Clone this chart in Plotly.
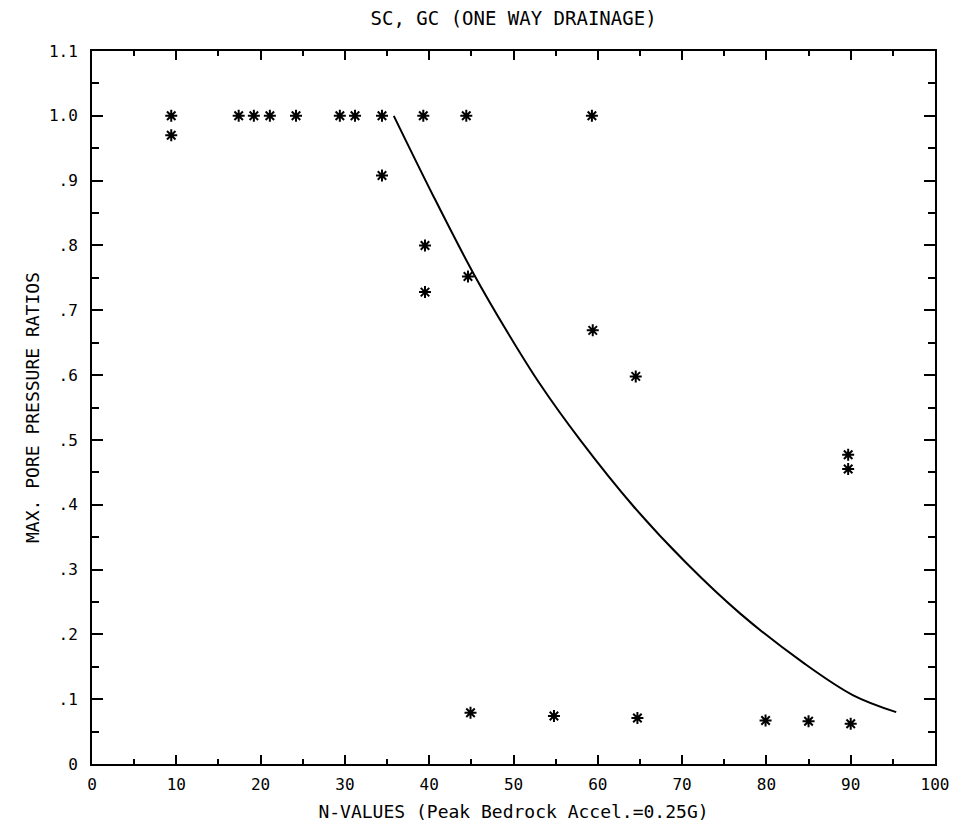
import plotly.graph_objects as go

# Measured points: N-value vs. maximum pore pressure ratio
n_values = [9.4, 9.4, 17.4, 19.2, 21.1, 24.2, 29.4, 31.2, 34.4, 34.4,
            39.3, 39.5, 39.5, 44.4, 44.6, 44.9, 54.8, 59.3, 59.4, 64.5,
            64.7, 79.9, 85.0, 89.7, 89.7, 90.0]
ratios = [1.0, 0.97, 1.0, 1.0, 1.0, 1.0, 1.0, 1.0, 1.0, 0.908,
          1.0, 0.80, 0.728, 1.0, 0.752, 0.079, 0.074, 1.0, 0.669, 0.598,
          0.071, 0.067, 0.066, 0.477, 0.455, 0.062]

# Fitted curve
curve_n = [35.8, 40.5, 45.2, 49.2, 53.2, 57.9, 64.2, 70.5, 76.9, 84.4, 90.3, 95.4]
curve_r = [1.0, 0.876, 0.758, 0.668, 0.585, 0.500, 0.398, 0.310, 0.232, 0.156, 0.106, 0.080]

x_ticks = [0, 10, 20, 30, 40, 50, 60, 70, 80, 90, 100]
x_tick_text = ["0", "10", "20", "30", "40", "50", "60", "70", "80", "90", "100"]
y_ticks = [0, 0.1, 0.2, 0.3, 0.4, 0.5, 0.6, 0.7, 0.8, 0.9, 1.0, 1.1]
y_tick_text = ["0", ".1", ".2", ".3", ".4", ".5", ".6", ".7", ".8", ".9", "1.0", "1.1"]

FONT = "DejaVu Sans Mono"

fig = go.Figure()
fig.add_trace(go.Scatter(
    x=curve_n, y=curve_r, mode="lines",
    line=dict(color="black", width=2, shape="spline", smoothing=1.0),
    hoverinfo="skip", showlegend=False,
))
fig.add_trace(go.Scatter(
    x=n_values, y=ratios, mode="markers",
    marker=dict(symbol="asterisk-open", size=10, color="black",
                line=dict(color="black", width=2)),
    showlegend=False,
))

axis_common = dict(
    showgrid=False, zeroline=False,
    showline=True, linecolor="black", linewidth=2,
    mirror="allticks", ticks="inside", tickcolor="black", tickwidth=2,
    tickfont=dict(family=FONT, size=16, color="black"),
)

fig.update_xaxes(
    range=[0, 100], tickvals=x_ticks, ticktext=x_tick_text, ticklen=9,
    minor=dict(ticks="inside", dtick=5, tick0=0, ticklen=5, tickwidth=2, tickcolor="black"),
    title=dict(text="N-VALUES (Peak Bedrock Accel.=0.25G)",
               font=dict(family=FONT, size=18, color="black"), standoff=12),
    ticklabelstandoff=5,
    **axis_common,
)
fig.update_yaxes(
    range=[0, 1.1], tickvals=y_ticks, ticktext=y_tick_text, ticklen=11,
    minor=dict(ticks="inside", dtick=0.05, tick0=0, ticklen=7, tickwidth=2, tickcolor="black"),
    title=dict(text="MAX. PORE PRESSURE RATIOS",
               font=dict(family=FONT, size=18, color="black"), standoff=5),
    ticklabelstandoff=9,
    **axis_common,
)

fig.update_layout(
    width=960, height=830,
    margin=dict(l=92, r=25, t=51, b=66),
    paper_bgcolor="white", plot_bgcolor="white",
    title=dict(text="SC, GC (ONE WAY DRAINAGE)", x=0.535, xanchor="center",
               y=0.978, yanchor="middle",
               font=dict(family=FONT, size=19, color="black")),
)

fig.write_html("out.html")
